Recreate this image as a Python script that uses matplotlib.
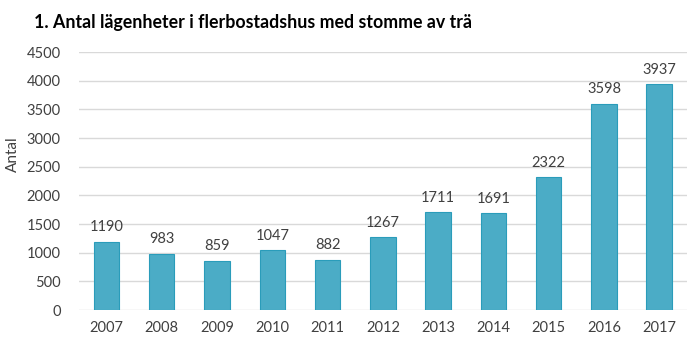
import matplotlib.pyplot as plt

years = ["2007", "2008", "2009", "2010", "2011", "2012", "2013", "2014", "2015", "2016", "2017"]
antal = [1190, 983, 859, 1047, 882, 1267, 1711, 1691, 2322, 3598, 3937]
yticks = [0, 500, 1000, 1500, 2000, 2500, 3000, 3500, 4000, 4500]

plt.rcParams["font.family"] = ["Lato", "DejaVu Sans"]
text_color = "#404040"

fig = plt.figure(figsize=(6.98, 3.43), dpi=100)
ax = fig.add_axes([0.113, 0.096, 0.871, 0.752])

x = range(len(years))
ax.bar(x, antal, width=0.46, color="#4BACC6", edgecolor="#2A9CBA", linewidth=0.8, zorder=3)
for xi, v in zip(x, antal):
    ax.text(xi, v + 130, str(v), ha="center", va="bottom", fontsize=10.5, color=text_color)

ax.set_xlim(-0.5, len(years) - 0.5)
ax.set_ylim(0, 4500)
ax.set_yticks(yticks)
ax.set_xticks(list(x))
ax.set_xticklabels(years)
ax.grid(axis="y", color="#d9d9d9", linewidth=1, zorder=0)
for s in ax.spines.values():
    s.set_visible(False)
ax.tick_params(length=0, labelsize=10.5, colors=text_color)
ax.tick_params(axis="y", pad=13)
ax.tick_params(axis="x", pad=8)

fig.text(0.018, 0.55, "Antal", rotation=90, ha="center", va="center", fontsize=11, color=text_color)
fig.text(0.048, 0.935, "1. Antal lägenheter i flerbostadshus med stomme av trä",
         fontsize=12.8, fontweight="bold", color="black", ha="left", va="center")

fig.savefig("out.png", dpi=100)
